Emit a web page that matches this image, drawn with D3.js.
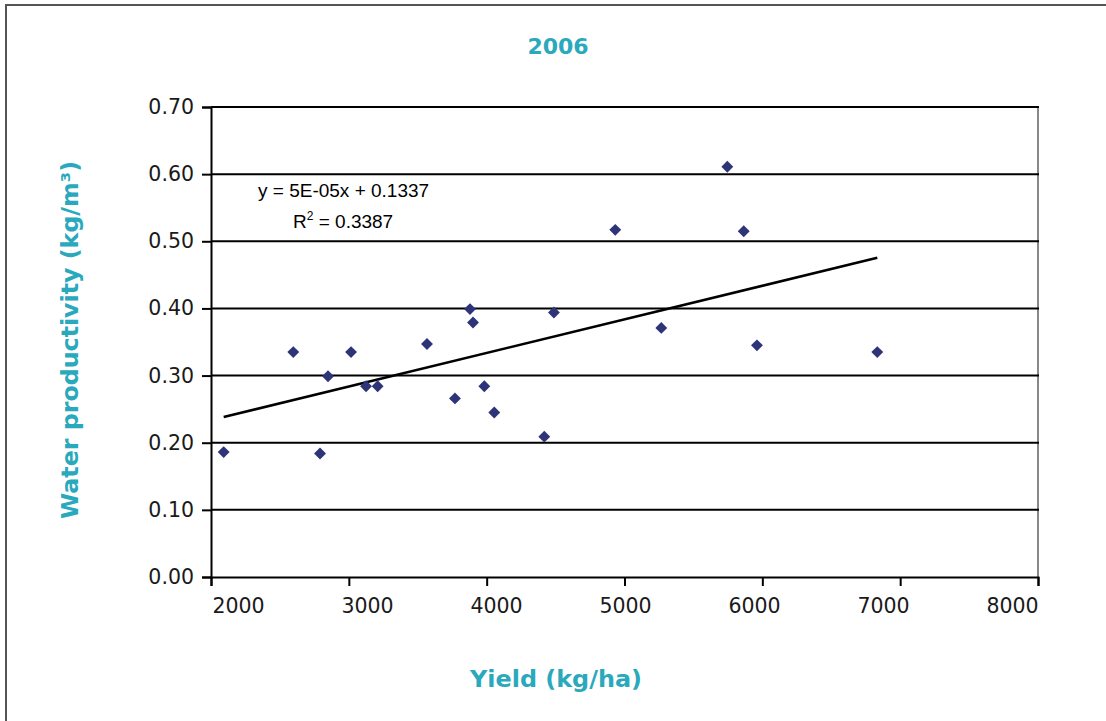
<!DOCTYPE html>
<html lang="en">
<head>
    <meta charset="UTF-8">
    <title>2006</title>
    <style>
        body { margin: 0; background: #fff; }
        svg { display: block; }
    </style>
</head>
<body>
    <script src="https://cdnjs.cloudflare.com/ajax/libs/d3/7.8.2/d3.min.js"></script>
    <script>

        // yield (kg/ha) et productivité de l'eau (kg/m3)
        const rendement = [2092, 2597, 2791, 2849, 3016, 3125, 3209, 3567, 3770, 3879, 3901,
                           3983, 4055, 4418, 4488, 4933, 5267, 5746, 5865, 5961, 6834]
        const productivite = [0.186, 0.335, 0.184, 0.299, 0.335, 0.284, 0.284, 0.347, 0.266, 0.399, 0.379,
                              0.284, 0.245, 0.209, 0.394, 0.517, 0.371, 0.611, 0.515, 0.345, 0.335]

        const ticksX = [2000, 3000, 4000, 5000, 6000, 7000, 8000]
        const ticksY = [0, 0.1, 0.2, 0.3, 0.4, 0.5, 0.6, 0.7]

        // courbe de tendance (Excel)
        const pente = 5.0e-5
        const ordonnee = 0.1337
        const equation = ["y = 5E-05x + 0.1337", "R", "2", " = 0.3387"]

        const w = 1106
        const h = 721
        const teal = "#2aa9bd"
        const marge = {gauche: 211, droite: 1038, haut: 107, bas: 577}

        let svg = d3.select("body")
            .append("svg")
                .attr("width", w)
                .attr("height", h)

        // cadre du graphique
        svg.append("rect")
            .attr("x", 6).attr("y", 5)
            .attr("width", w + 20).attr("height", h + 20)
            .attr("fill", "none")
            .attr("stroke", "#555")
            .attr("stroke-width", 2)

        const echelleX = d3.scaleLinear()
            .domain([2000, 8000])
            .range([marge.gauche, marge.droite])

        const echelleY = d3.scaleLinear()
            .domain([0, 0.7])
            .range([marge.bas, marge.haut])

        // Excel place les étiquettes de l'axe X un peu décalées
        const echelleEtiquettes = d3.scaleLinear()
            .domain([2000, 8000])
            .range([238, 1012])

        // bord droit de la zone de tracé
        svg.append("line")
            .attr("x1", marge.droite).attr("x2", marge.droite)
            .attr("y1", marge.haut).attr("y2", marge.bas)
            .attr("stroke", "#888")
            .attr("stroke-width", 2)

        // lignes de quadrillage
        svg.selectAll("line.grille")
            .data(ticksY.slice(1))
            .enter()
            .append("line")
                .attr("class", "grille")
                .attr("x1", marge.gauche)
                .attr("x2", marge.droite + 1)
                .attr("y1", d => echelleY(d))
                .attr("y2", d => echelleY(d))
                .attr("stroke", "#000")
                .attr("stroke-width", 2)

        // axe Y
        const axeY = svg.append("g")
            .attr("transform", `translate(${marge.gauche},0)`)
            .call(d3.axisLeft(echelleY).tickValues(ticksY).tickFormat(d3.format(".2f")).tickSize(9).tickPadding(8))
        axeY.select(".domain").attr("stroke-width", 2)
        axeY.selectAll(".tick line").attr("stroke-width", 2)
        axeY.selectAll("text")
            .style("font-family", "DejaVu Sans")
            .style("font-size", "20.5px")
            .attr("fill", "#1a1a1a")

        // axe X
        const axeX = svg.append("g")
            .attr("transform", `translate(0,${marge.bas})`)
            .call(d3.axisBottom(echelleX).tickValues(ticksX).tickFormat(d3.format("d")).tickSize(9).tickSizeOuter(9).tickPadding(12))
        axeX.select(".domain").attr("stroke-width", 2)
        axeX.selectAll(".tick line").attr("stroke-width", 2)
        axeX.selectAll("text")
            .attr("x", d => echelleEtiquettes(d) - echelleX(d))
            .style("font-family", "DejaVu Sans")
            .style("font-size", "20.5px")
            .attr("fill", "#1a1a1a")

        // courbe de tendance
        const xMin = d3.min(rendement)
        const xMax = d3.max(rendement)
        svg.append("line")
            .attr("x1", echelleX(xMin))
            .attr("y1", echelleY(pente * xMin + ordonnee))
            .attr("x2", echelleX(xMax))
            .attr("y2", echelleY(pente * xMax + ordonnee))
            .attr("stroke", "#000")
            .attr("stroke-width", 2.5)

        // points en losange
        const points = rendement.map((r, i) => ({x: r, y: productivite[i]}))
        svg.selectAll("path.point")
            .data(points)
            .enter()
            .append("path")
                .attr("class", "point")
                .attr("d", d3.symbol(d3.symbolDiamond2, 90))
                .attr("transform", d => `translate(${echelleX(d.x)},${echelleY(d.y)})`)
                .attr("fill", "#2e3478")

        // équation
        svg.append("text")
            .attr("x", 258).attr("y", 197)
            .style("font-family", "Liberation Sans")
            .style("font-size", "19px")
            .text(equation[0])

        const r2 = svg.append("text")
            .attr("x", 293).attr("y", 228)
            .style("font-family", "Liberation Sans")
            .style("font-size", "19px")
        r2.append("tspan").text(equation[1])
        r2.append("tspan").attr("dy", -8).style("font-size", "12px").text(equation[2])
        r2.append("tspan").attr("dy", 8).text(equation[3])

        // titres
        svg.append("text")
            .attr("x", 558).attr("y", 54)
            .attr("text-anchor", "middle")
            .style("font-family", "DejaVu Sans")
            .style("font-weight", "bold")
            .style("font-size", "22px")
            .attr("fill", teal)
            .text("2006")

        svg.append("text")
            .attr("x", 556).attr("y", 687)
            .attr("text-anchor", "middle")
            .attr("textLength", 172)
            .attr("lengthAdjust", "spacingAndGlyphs")
            .style("font-family", "DejaVu Sans")
            .style("font-weight", "bold")
            .style("font-size", "23px")
            .attr("fill", teal)
            .text("Yield (kg/ha)")

        svg.append("text")
            .attr("transform", "translate(78,340) rotate(-90)")
            .attr("text-anchor", "middle")
            .attr("textLength", 358)
            .attr("lengthAdjust", "spacingAndGlyphs")
            .style("font-family", "DejaVu Sans")
            .style("font-weight", "bold")
            .style("font-size", "23px")
            .attr("fill", teal)
            .text("Water productivity (kg/m³)")

    </script>
</body>
</html>
